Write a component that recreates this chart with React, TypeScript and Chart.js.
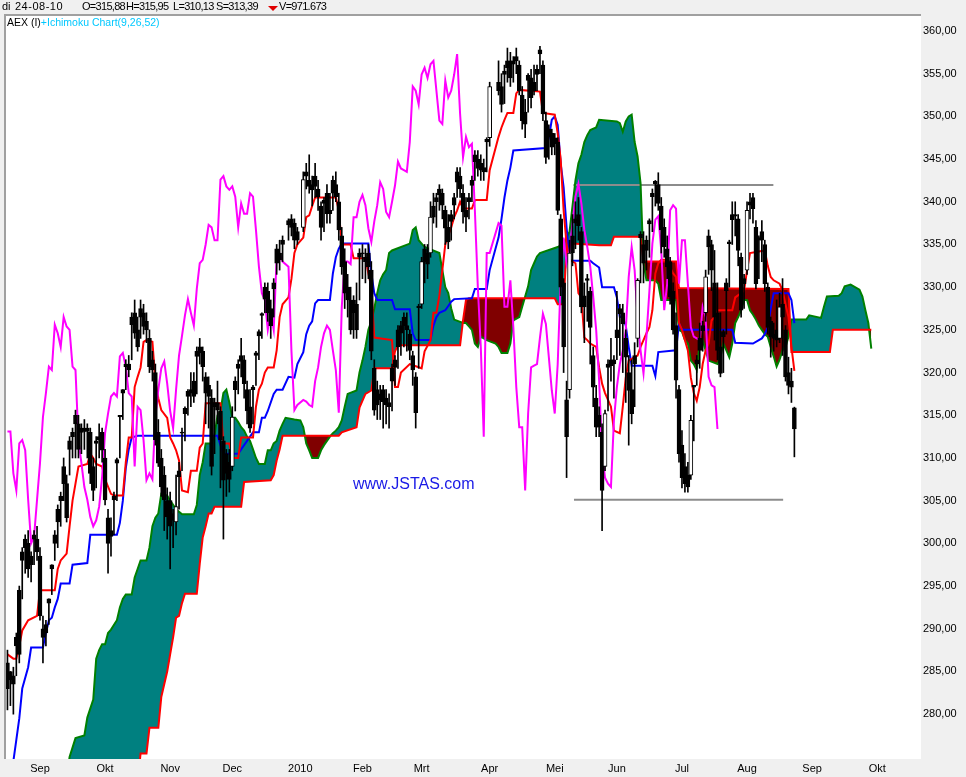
import React, { useEffect, useRef } from "react";
import { Chart, registerables } from "chart.js";

Chart.register(...registerables);

// x = weekday slot, slot 0 = di 1 sep 2009; first candle = ma 17 aug 2009
const FIRST_SLOT = -11;
const CHIKOU_SHIFT = 26;

const monthSlots = [0, 22, 44, 65, 88, 109, 129, 152, 174, 195, 217, 239, 261, 283];
const monthLabels = ["Sep", "Okt", "Nov", "Dec", "2010", "Feb", "Mrt", "Apr", "Mei", "Jun", "Jul", "Aug", "Sep", "Okt"];
const yTickValues = [280, 285, 290, 295, 300, 305, 310, 315, 320, 325, 330, 335, 340, 345, 350, 355, 360];

const lastDay = "di";
const lastDate = "24-08-10";
const lastVolumeLabel = "971.673";

// OHLC per weekday slot (null = beurs gesloten)
const opens: (number | null)[] = [
  286, 285, 284.5, 289, 294.5, 299, 300.5, 300, 298.5, 301,
  300.5, 298.5, 290, 290.5, 293.5, 297.5, 301, 304, 305.5, 309,
  307, 312, 313, 315, 314, 313.5, 313.5, 313.5, 313, 309,
  312, 312.5, 313, 310, 303, 301.5, 305.5, 309.8, 315, 318,
  321, 321, 326.5, 327, 325, 327.5, 327, 326, 324, 321.5,
  320, 313, 310, 308, 305, 305, 303.5, 302.5, 308.5, 313,
  315.8, 317.8, 318, 319, 322.5, 323, 322.5, 319.5, 318.5, 317,
  316.5, 316.5, 315.5, 312, 310.5, 309.5, 309, 319, 321, 322,
  321.5, 318, 316, 318.3, 322.3, 324.8, 326.9, 330, 329.5, 327.5,
  330.5, 334.5, 334, 335.5, null, 337.8, 338, 337.5, 336.5, null,
  337, 343.5, 342.5, 342, 343, 341.5, 339.5, 340.2, 341, 339,
  342.5, 342, 340, 336, 333, 330, 328.5, 328.5, 328, 334,
  334, 333.5, 334, 332, 320.5, 318, 317.5, 318, 317, 316.5,
  320.5, 321.5, 325, 325.5, 326.5, 325.5, 324.5, 322, 319.5, 327.8,
  328, 334.5, 334, 334, 339.5, 340.5, 341.5, 341, 339, 337,
  338.5, 340.5, 343.5, 343, 341, 339, 340.5, 342.5, 345.5, 345,
  344.5, 344, 347.3, 347.5, null, null, 354, 353.5, 355.3, 356.5,
  356.5, 356.5, 357, 356, 352.5, 350.5, 354.8, 354.5, 354, 355.5,
  357.8, 356, 349.5, 348.5, 348, 347.5, 347, 338, 330.5, 316.8,
  318, 336, 338, 338.5, 336.5, 329, 331, 329.5, 322, 317,
  315, 313, 309, 321, 321.5, 321.5, 325, 327.5, 327, 324,
  320, 318, 322, 324, 336.2, 335, 335.5, 337.8, 341, 342.4,
  342, 339.5, 337, 334.5, 333, 329.5, 325.5, 318, 311.5, 309,
  308, 308, 318.5, 321.5, 324, 325.5, 327, 336, 335, 330.5,
  327, 323, 324.8, 330.5, 335.3, 338.5, 338.5, 338, 333.5, 331,
  332, 340, 340.5, 337, 335.8, 336.5, 335, 330, 326, 324.5,
  325, 324, 328, 325, 320, 319, 315.88,
];
const highs: (number | null)[] = [
  287.5, 285, 285.5, 289.5, 295, 299.5, 301, 301.5, 299, 301.5,
  302, 299.5, 291.5, 291, 293.5, 297.5, 301.5, 304.5, 306, 310,
  308, 312.5, 313.5, 315.6, 315, 314, 314.5, 314, 313.5, 310,
  312.5, 314, 313.5, 311, 304, 303, 306, 310, 315, 318,
  321.5, 322, 327, 328.5, 326.5, 328.5, 328, 327, 325, 322.5,
  321, 314.5, 311, 309, 306.5, 306, 304, 308, 309.5, 313.5,
  316, 318, 320, 320, 323, 324, 323, 320, 319.5, 318,
  317, 319, 316, 312.5, 311, 311, 316, 319.5, 321.5, 324,
  322, 319, 318, 318.5, 322.5, 325, 327, 330.5, 330.5, 328.5,
  331, 335, 335.5, 336, null, 338, 338.5, 338, 337, null,
  343.5, 344.5, 345.5, 343, 344.5, 342.5, 340, 340.5, 342, 341,
  343, 343.5, 341, 337, 334.5, 331.5, 330, 329, 330.5, 334.5,
  335, 334.5, 335, 333, 321.5, 319, 318.5, 318.5, 318, 317.5,
  321, 322, 325.5, 326, 327, 327, 325, 322.5, 320, 328,
  333.5, 335, 335, 340, 341, 341, 342, 341.5, 339.5, 338.5,
  339, 341, 344, 344, 342, 340.5, 341, 343, 346, 346,
  345.5, 345, 347.5, 354, null, null, 356.5, 355, 356, 358,
  357.5, 357, 358, 356.5, 353.5, 352, 355, 355.5, 356, 356,
  358.2, 356.5, 350.5, 349, 348.5, 348, 347.5, 338.5, 331, 319,
  335.5, 338.5, 340, 340.5, 337, 330.5, 331.5, 330, 323, 318.5,
  316, 314, 315.6, 321.5, 324, 322, 329.5, 328, 328, 325,
  322, 321.5, 323.5, 331, 336.5, 336.5, 336, 338, 341.5, 342.5,
  343.4, 340.5, 338, 336, 333.5, 330.5, 327, 318.5, 313.2, 310.5,
  309.5, 315, 318.5, 322, 325.8, 326, 332, 336.7, 335.5, 334.3,
  330.5, 327, 325, 331, 335.5, 340, 340, 338.5, 334, 331.5,
  340, 341, 341, 337.8, 336, 337.8, 335.5, 330.5, 326.5, 325.8,
  328.5, 329.3, 331, 325.5, 321.8, 320.5, 315.95,
];
const lows: (number | null)[] = [
  280.5, 281, 280, 284.5, 286, 293.5, 296.5, 296, 295.5, 297.5,
  298, 291, 286, 288, 290.5, 294, 298, 299.5, 302, 305,
  302.5, 308, 310, 310, 310, 310.5, 311, 310, 307, 305,
  306.5, 310, 309.5, 304.5, 296.5, 298.5, 301, 305, 310, 314.5,
  318, 319.5, 321.5, 324, 322.5, 324, 324.5, 323.5, 320, 319,
  311.5, 309, 305.5, 301.5, 300.5, 297, 299.5, 301, 304, 308.5,
  312, 315, 316, 316.5, 317.5, 321, 319, 314, 313.5, 308,
  310.5, 314, 306.5, 300.5, 305.5, 306, 308.5, 315.5, 317.5, 319.5,
  317, 314, 313, 314, 318.5, 321.5, 324, 327, 326, 324,
  326.5, 331.5, 332, 333, null, 335.5, 336, 334.5, 335, null,
  336.5, 341.5, 341, 339.5, 340.5, 339, 335.5, 336.5, 337.5, 337.5,
  339, 340, 335.5, 331.5, 327.5, 326.5, 324.5, 324, 324, 328.5,
  331, 330.5, 331, 321.5, 315, 314.5, 314.5, 313.5, 314, 313.5,
  315.5, 318.5, 320.5, 322, 323, 322.5, 321.5, 318.5, 313.5, 320.5,
  327.5, 330.5, 331, 333.5, 337.5, 337, 339, 338, 335, 334.5,
  335.5, 338, 340.5, 340.5, 337.5, 336.5, 338, 340, 342.5, 343,
  342.5, 342.5, 343.5, 346.5, null, null, 352.5, 350.5, 351.5, 354,
  353.5, 354, 355, 352.5, 348.5, 347.5, 350.5, 351, 352.5, 353,
  355, 349.5, 344.5, 345, 345.5, 345.5, 338.5, 329, 320, 307.7,
  317, 332.5, 334.5, 335.5, 327, 323.5, 326, 321, 316, 312.5,
  312.5, 301.5, 308.5, 315.5, 319, 317, 321.5, 322, 320, 316.5,
  311.5, 314, 316, 323, 330.5, 330.5, 332, 333.5, 336.5, 339.5,
  339, 334, 333.5, 331, 328, 324.5, 317, 309.5, 306.5, 306,
  306, 307.5, 312, 318.5, 320.5, 322.5, 326, 331.5, 329.6, 323.8,
  321.5, 319.5, 320, 324.5, 330, 335, 336, 332.5, 326.5, 327.5,
  331.5, 338, 337.5, 329.8, 331, 333, 329.5, 324.5, 321.8, 322.5,
  323, 323.5, 322, 319, 317.5, 316.5, 310.13,
];
const closes: (number | null)[] = [
  283, 284, 283.5, 288, 287, 298, 299.5, 297, 297.5, 300.5,
  299, 291.5, 289, 289.5, 293, 297, 300, 302.5, 305, 307,
  303, 311, 312.5, 314, 311, 313, 313.1, 313.1, 308.2, 306.2,
  311.7, 312.1, 310.9, 305.1, 300, 300.8, 305.1, 309.4, 314.8, 317.6,
  320.7, 320.3, 325.6, 324.6, 323, 326.5, 325.4, 325, 320.7, 320.3,
  312.1, 309.4, 306.6, 305.1, 303.1, 302, 302.7, 304.3, 307.8, 312.9,
  315.2, 317.2, 317.6, 317.2, 321.9, 322.3, 320.7, 317.6, 317.2, 309,
  316, 315.6, 312.1, 307.4, 308.2, 307.5, 314.8, 318, 320.5, 321.3,
  318.7, 315.5, 313.5, 318, 322, 324.3, 326.7, 328.6, 327, 325.5,
  329.8, 332.8, 333.2, 335, null, 337.3, 337, 335.5, 335.5, null,
  342.6, 343, 341.8, 341.4, 341.8, 340.6, 337, 339.8, 338.6, 338.6,
  341, 340.6, 336.7, 332.4, 329.3, 328.5, 325, 327, 325, 333.5,
  333.9, 333, 332.4, 322.5, 315.6, 316.2, 316.8, 316.6, 316.2, 316,
  319, 320.6, 323, 324.6, 325.5, 325, 322.6, 320.3, 315.3, 327.6,
  333, 333, 332.7, 338.2, 338.2, 340, 340.8, 339.6, 336.9, 335.3,
  337.7, 339.6, 342.3, 341.5, 338.8, 338.2, 340, 341.9, 344.7, 343.9,
  343.7, 343.5, 347, 353.5, null, null, 353, 351.4, 354.9, 355.7,
  354.5, 356.1, 356.5, 353, 349.5, 349.1, 354.2, 352.2, 353, 354.9,
  357.3, 350.3, 345.2, 347.6, 346.4, 346.8, 339, 330, 323, 312.5,
  334, 334, 337.5, 337.2, 327.7, 327.7, 330.8, 325.3, 318.3, 313.6,
  313.6, 306.2, 315.2, 320.6, 320.8, 321, 324.1, 326.9, 325.7, 321.8,
  317.9, 315.2, 321, 330.8, 335.8, 332.8, 334.3, 337.4, 340.6, 342.1,
  339.8, 336.7, 334.7, 332.4, 328.9, 325, 319.1, 310.5, 307.7, 307,
  306.6, 314.4, 318.3, 321, 322.6, 324.9, 331.2, 334.7, 332, 326.5,
  322.6, 319.9, 324.2, 329.6, 335.1, 337.9, 338.3, 334.3, 327.3, 330.4,
  339, 339.6, 339.2, 330.4, 335.5, 335.5, 330.4, 325.3, 324.2, 324,
  323.8, 327.7, 326.5, 319.5, 318.5, 318.3, 313.39,
];

// Ichimoku lines: [slot, value]
const tenkan: [number, number][] = [
  [-11, 287], [-9, 286.5], [-8, 286.5], [-7, 288], [-6, 289.8], [-4, 291], [-1, 291.5], [0, 294.5], [5, 294.5], [6, 297],
  [7, 298], [9, 298.8], [10, 302], [11, 305], [12, 307], [13, 309], [16, 309.3], [17, 310.5], [18, 310], [19, 309.3],
  [21, 309], [22, 307.5], [24, 305.8], [25, 305.6], [28, 305.6], [29, 309.5], [30, 312.4], [31, 312.4], [32, 318.3], [33, 319.5],
  [34, 320.6], [35, 323.6], [36, 323.8], [38, 323.6], [39, 319], [40, 317], [41, 315.6], [43, 314.7], [44, 312.4], [45, 311.7],
  [46, 310.9], [47, 309.7], [48, 306.2], [50, 306], [51, 308.5], [53, 308.5], [54, 311.2], [55, 311.7], [56, 316.4], [61, 316.4],
  [62, 311.7], [64, 311.7], [65, 310], [67, 310], [68, 312.4], [72, 312.4], [73, 316], [74, 318], [75, 318.7], [76, 320],
  [77, 320.6], [79, 320.6], [80, 322.6], [81, 326.5], [82, 328], [84, 328.8], [85, 331], [86, 334], [87, 335], [89, 335.8],
  [90, 338.2], [91, 338.4], [92, 339.5], [93, 340.5], [100, 340.5], [101, 339], [102, 335], [105, 335], [106, 333.4], [110, 333.4],
  [111, 331.6], [112, 330], [113, 324.1], [119, 323.8], [120, 318.3], [121, 318.3], [122, 320], [125, 321], [129, 320.5], [130, 322.5],
  [132, 323.8], [133, 327], [134, 327], [135, 329], [136, 332], [137, 335], [138, 336], [139, 337], [140, 338.2], [141, 339],
  [142, 340], [143, 339.2], [146, 339.2], [147, 340.2], [151, 340.2], [152, 343.7], [155, 347.6], [156, 348.7], [157, 349.6], [158, 350.4],
  [160, 350.4], [161, 352.7], [162, 353.1], [169, 352.9], [170, 350.4], [174, 350.2], [175, 348], [176, 345], [177, 339], [178, 335],
  [179, 333.2], [181, 332.8], [182, 329.3], [183, 328.8], [184, 324.1], [185, 323.8], [186, 323.4], [188, 323], [189, 320.6], [190, 318.7],
  [191, 317.6], [193, 316], [194, 313.2], [196, 312.9], [197, 316], [198, 319.4], [199, 321.4], [201, 321.8], [202, 322], [203, 323],
  [204, 323.8], [205, 324.6], [206, 325.3], [207, 327.3], [208, 331.6], [209, 332.8], [210, 333.2], [212, 333.2], [213, 332.3], [214, 331.6],
  [215, 331.2], [216, 325.8], [217, 325], [218, 323.8], [219, 322.6], [220, 319.4], [221, 317.6], [222, 316.7], [223, 318.3], [224, 321],
  [225, 322.6], [226, 323.4], [227, 326.1], [228, 326.5], [229, 327.3], [234, 327.3], [235, 328.8], [237, 329.3], [238, 329.6], [239, 332],
  [240, 334], [245, 334.3], [246, 332.5], [247, 331.2], [248, 330.8], [250, 330.4], [251, 329.6], [252, 328], [253, 326.5], [254, 323],
  [255, 320.2],
];
const kijun: [number, number][] = [
  [-11, 270], [-9, 274.5], [-8, 277], [-7, 279.5], [-6, 283], [-4, 285.5], [-3, 287.8], [1, 287.8], [2, 289.5], [3, 291],
  [4, 291.3], [5, 292.5], [6, 293.5], [7, 295.3], [10, 295.3], [11, 297.5], [16, 297.7], [17, 301], [26, 301], [27, 302.4],
  [28, 305], [29, 308.8], [30, 311], [31, 312.4], [33, 312.6], [60, 312.6], [61, 311.5], [62, 310.5], [67, 310.5], [68, 311],
  [70, 312], [72, 313], [74, 313], [75, 314.7], [76, 314.7], [77, 315.5], [79, 317.5], [80, 318], [82, 318], [84, 319.5],
  [86, 319.4], [87, 321], [89, 322.4], [90, 324.5], [91, 325.5], [92, 326], [93, 328.1], [94, 328.5], [98, 328.5], [99, 331.6],
  [100, 333.5], [101, 334.5], [102, 335.1], [111, 335.1], [112, 331.6], [113, 329.3], [114, 328.5], [119, 328.5], [120, 327.4], [125, 327.4],
  [126, 324.6], [127, 323.8], [132, 323.8], [133, 325.5], [134, 326.5], [135, 327], [137, 327.3], [138, 327.8], [139, 328.3], [140, 328.6],
  [146, 328.7], [147, 329.8], [151, 329.8], [152, 332], [155, 335.8], [156, 338], [157, 340.5], [158, 342.5], [159, 344], [160, 346],
  [171, 346.3], [172, 347.5], [173, 349.6], [174, 350], [175, 349], [176, 344.5], [177, 341.7], [178, 337], [179, 333.1], [186, 333.1],
  [187, 332.8], [189, 332.3], [190, 330], [194, 330], [195, 328.8], [196, 326.5], [197, 326.5], [198, 325.5], [199, 323], [200, 320.8],
  [207, 320.8], [208, 319.6], [209, 322.4], [215, 322.6], [216, 325.8], [217, 325], [234, 325], [235, 323.5], [241, 323.4], [243, 323.8],
  [244, 324], [245, 324.5], [246, 325.3], [247, 327.5], [248, 329.3], [253, 329.3], [254, 328.5], [255, 325.8],
];
const senkouA: [number, number][] = [
  [9, 272], [10, 275], [12, 277.2], [15, 277.5], [16, 279.6], [18, 281.7], [19, 286.5], [20, 287.5], [21, 288.2], [22, 288.2],
  [23, 289.5], [24, 289.9], [26, 291], [27, 292.5], [28, 293.5], [29, 294], [31, 294], [32, 296], [33, 297], [34, 298],
  [36, 298], [37, 299.5], [38, 302], [39, 303], [40, 303.5], [41, 305.8], [43, 305.6], [44, 305], [45, 304.5], [46, 304],
  [48, 303.4], [52, 303.4], [53, 304.5], [54, 308], [55, 309.5], [56, 311.7], [58, 311.7], [59, 312.6], [60, 315], [61, 315.5],
  [62, 317.6], [63, 318], [64, 316.5], [65, 314.7], [66, 314.7], [67, 314.2], [68, 313.6], [69, 313.2], [70, 312.5], [71, 312],
  [72, 311], [73, 310], [74, 309.3], [76, 309.3], [77, 310.9], [78, 310.9], [79, 311.7], [80, 312], [81, 313.2], [82, 314],
  [83, 314.7], [86, 314.5], [88, 314.4], [89, 313.6], [90, 311.7], [91, 310.9], [92, 310], [94, 310], [95, 310.9], [96, 311.5],
  [97, 312], [98, 312.5], [99, 312.9], [100, 313.2], [101, 313.6], [102, 314.4], [103, 316], [104, 317.5], [107, 317.9], [108, 320],
  [109, 321.4], [110, 323], [111, 325], [112, 326], [113, 327.5], [114, 329.3], [115, 330.8], [116, 331.5], [117, 332], [118, 334],
  [119, 334.3], [125, 335.1], [126, 336.7], [127, 337], [128, 335.5], [130, 334.7], [135, 334], [136, 332], [137, 330], [138, 329.3],
  [139, 327.5], [140, 326.2], [143, 325.8], [144, 325.8], [145, 325.4], [146, 325], [147, 323.4], [148, 323], [149, 324.2], [151, 323.8],
  [154, 323.4], [155, 323], [156, 322.3], [158, 322.3], [159, 323.4], [160, 326.1], [162, 326.5], [163, 327.7], [164, 328.9], [165, 330.1],
  [166, 332], [167, 332.8], [168, 333.6], [169, 334], [175, 334.7], [177, 335.1], [178, 335.8], [179, 336.5], [180, 339.5], [181, 342.5],
  [182, 344.5], [183, 345.5], [184, 347], [185, 347.8], [186, 348.4], [188, 348.7], [189, 349.6], [195, 349.4], [196, 349.2], [197, 348.2],
  [198, 349.4], [199, 350], [200, 350.2], [201, 347], [202, 345.3], [203, 342.2], [204, 332.8], [205, 330.8], [208, 330.8], [209, 330.4],
  [210, 328.5], [215, 328.5], [216, 325], [217, 324.8], [218, 323.8], [219, 323.4], [220, 321.4], [221, 321], [222, 320.3], [223, 323.4],
  [224, 323.8], [225, 322.6], [226, 321.4], [229, 321], [230, 321.8], [231, 323.4], [232, 322.6], [233, 321.8], [234, 323.4], [235, 325.8],
  [236, 326.5], [237, 327.3], [238, 328.5], [239, 328.5], [240, 327.3], [241, 326.8], [242, 326.2], [243, 325.5], [244, 325], [245, 324.5],
  [246, 324.2], [247, 323], [248, 321.9], [249, 320.7], [250, 321.5], [251, 322.6], [252, 323], [253, 324.2], [254, 326.2], [259, 326.2],
  [260, 326.7], [264, 326.4], [265, 327.7], [266, 328.9], [270, 329], [271, 329.3], [272, 330.1], [274, 330.3], [277, 329.7], [278, 328.9],
  [279, 327.3], [280, 325.8], [281, 322.8],
];
const senkouB: [number, number][] = [
  [9, 266], [33, 272], [34, 275.4], [36, 275.4], [37, 278.4], [40, 278.4], [41, 282], [42, 283.5], [43, 285], [44, 287],
  [45, 289], [46, 291.3], [47, 291.5], [48, 293], [49, 294.1], [53, 294.1], [54, 297.6], [55, 300.7], [56, 302], [57, 303.5],
  [58, 303.5], [59, 304.3], [68, 304.3], [69, 307.2], [78, 307.4], [79, 308], [80, 309.7], [81, 311], [82, 312.6], [101, 312.6],
  [102, 313], [107, 313.6], [108, 315.9], [110, 317.5], [112, 317.9], [113, 320.5], [119, 320.5], [120, 322.5], [121, 323.2], [142, 323.2],
  [143, 326.1], [144, 328.5], [145, 328.7], [174, 328.7], [175, 328], [177, 328], [178, 334.7], [180, 335.1], [189, 334.9], [193, 334.9],
  [194, 335.9], [203, 335.9], [204, 333], [215, 333], [216, 329.9], [253, 329.8], [254, 322.4], [267, 322.4], [268, 325], [281, 325],
];

// getekende steun/weerstandslijnen
const resistanceLine: [number, number][] = [[180.3, 341.95], [247.9, 341.95]];
const supportLine: [number, number][] = [[180.5, 305.1], [251.2, 305.1]];

const X_MIN = -11.49;
const X_MAX = 297.8;
const Y_MIN = 274.75;
const Y_MAX = 361.87;

const FONT = '"Liberation Sans", Arial, sans-serif';

const fmt = (v: number) => v.toFixed(2).replace(".", ",");
const toXY = (pairs: [number, number][]) => pairs.map(([x, y]) => ({ x, y }));

const framePlugin = {
  id: "frame",
  beforeDraw(chart: any) {
    const { ctx, chartArea: a } = chart;
    ctx.save();
    ctx.fillStyle = "#f0f0f0";
    ctx.fillRect(0, 0, chart.width, chart.height);
    ctx.fillStyle = "#ffffff";
    ctx.fillRect(a.left - 1, a.top - 1, a.right - a.left + 1, a.bottom - a.top + 1);
    ctx.fillStyle = "#a0a0a0";
    ctx.fillRect(a.left - 2, a.top - 1, 2, a.bottom - a.top + 1);
    ctx.fillRect(a.left - 2, a.top - 1, a.right - a.left + 2, 2);
    ctx.restore();
  },
};

export default function App() {
  const canvasRef = useRef<HTMLCanvasElement | null>(null);

  useEffect(() => {
    document.body.style.margin = "0";
    const canvas = canvasRef.current;
    if (!canvas) return;

    const bodies: any[] = [];
    const wicks: any[] = [];
    const bodyColors: string[] = [];
    const tradingSlots: number[] = [];
    const tradingCloses: number[] = [];
    for (let k = 0; k < closes.length; k++) {
      const o = opens[k], h = highs[k], l = lows[k], c = closes[k];
      if (o == null || h == null || l == null || c == null) continue;
      const slot = FIRST_SLOT + k;
      wicks.push({ x: slot, y: [l, h] });
      bodies.push({ x: slot, y: [Math.min(o, c), Math.max(o, c)] });
      bodyColors.push(c < o ? "#000000" : "#ffffff");
      tradingSlots.push(slot);
      tradingCloses.push(c);
    }
    // chikou span: each close drawn 26 trading bars back
    const chikou = tradingCloses.slice(CHIKOU_SHIFT).map((c, t) => ({ x: tradingSlots[t], y: c }));

    const lineBase = {
      type: "line" as const,
      pointRadius: 0,
      borderWidth: 2,
      tension: 0,
      fill: false,
    };

    const chart = new Chart(canvas, {
      type: "line",
      data: {
        datasets: [
          {
            type: "bar",
            data: bodies,
            backgroundColor: bodyColors,
            borderColor: "#000000",
            borderWidth: 1,
            borderSkipped: false,
            barThickness: 4,
            minBarLength: 1,
            grouped: false,
            order: 0,
          } as any,
          {
            type: "bar",
            data: wicks,
            backgroundColor: "#000000",
            borderWidth: 0,
            barThickness: 1,
            grouped: false,
            order: 1,
          } as any,
          { ...lineBase, data: chikou, borderColor: "#ff00ff", order: 2 },
          { ...lineBase, data: toXY(tenkan), borderColor: "#ff0000", order: 3 },
          { ...lineBase, data: toXY(kijun), borderColor: "#0000ff", order: 4 },
          {
            ...lineBase,
            data: toXY(senkouA),
            borderColor: "#008000",
            fill: { target: 6, above: "#008080", below: "#800000" },
            order: 6,
          } as any,
          { ...lineBase, data: toXY(senkouB), borderColor: "#ff0000", order: 5 },
          { ...lineBase, data: toXY(resistanceLine), borderColor: "#8c8c8c", order: 7 },
          { ...lineBase, data: toXY(supportLine), borderColor: "#8c8c8c", order: 7 },
        ],
      },
      options: {
        animation: false,
        responsive: false,
        devicePixelRatio: 1,
        events: [],
        layout: { padding: { left: 6, top: 15, right: 0, bottom: 0 } },
        plugins: {
          legend: { display: false },
          tooltip: { enabled: false },
          filler: { drawTime: "beforeDatasetsDraw" } as any,
        },
        scales: {
          x: {
            type: "linear",
            offset: false,
            min: X_MIN,
            max: X_MAX,
            grid: { display: false, drawTicks: false, offset: false },
            border: { display: false },
            afterBuildTicks: (scale: any) => {
              scale.ticks = monthSlots.map((v) => ({ value: v }));
            },
            afterFit: (scale: any) => {
              scale.height = 18;
            },
            ticks: {
              autoSkip: false,
              maxRotation: 0,
              minRotation: 0,
              padding: 3,
              color: "#000000",
              font: { family: FONT, size: 11 },
              callback: (_v: any, i: number) => monthLabels[i] ?? "",
            },
          } as any,
          y: {
            type: "linear",
            position: "right",
            offset: false,
            beginAtZero: false,
            min: Y_MIN,
            max: Y_MAX,
            grid: { display: false, drawTicks: false },
            border: { display: false },
            afterBuildTicks: (scale: any) => {
              scale.ticks = yTickValues.map((v) => ({ value: v }));
            },
            afterFit: (scale: any) => {
              scale.width = 45;
            },
            ticks: {
              padding: 2,
              color: "#000000",
              font: { family: FONT, size: 11 },
              callback: (v: any) => fmt(Number(v)),
            },
          } as any,
        },
      },
      plugins: [framePlugin],
    });

    return () => chart.destroy();
  }, []);

  const n = closes.length - 1;
  const headerTokens: [number, string, number][] = [
    [2, lastDay, 0],
    [15, lastDate, 0.5],
    [82, "O=" + fmt(opens[n] as number), -0.7],
    [126, "H=" + fmt(highs[n] as number), -0.7],
    [173, "L=" + fmt(lows[n] as number), -0.7],
    [216, "S=" + fmt(closes[n] as number), -0.7],
    [279, "V=" + lastVolumeLabel, -0.7],
  ];

  return (
    <div
      style={{
        position: "absolute",
        left: 0,
        top: 0,
        width: 966,
        height: 777,
        background: "#f0f0f0",
        overflow: "hidden",
        fontFamily: FONT,
      }}
    >
      <canvas
        ref={canvasRef}
        width={966}
        height={777}
        style={{ position: "absolute", left: 0, top: 0, width: 966, height: 777 }}
      />
      {headerTokens.map(([x, t, ls]) => (
        <span
          key={t}
          style={{
            position: "absolute",
            left: x,
            top: 0,
            fontSize: 11,
            lineHeight: "13px",
            letterSpacing: ls,
            color: "#000",
            whiteSpace: "nowrap",
          }}
        >
          {t}
        </span>
      ))}
      <div
        style={{
          position: "absolute",
          left: 268,
          top: 6,
          width: 0,
          height: 0,
          borderLeft: "5px solid transparent",
          borderRight: "5px solid transparent",
          borderTop: "5px solid #e00000",
        }}
      />
      <div
        style={{ position: "absolute", left: 7, top: 16, fontSize: 10.5, lineHeight: "13px", whiteSpace: "nowrap", color: "#000" }}
      >
        AEX (I)<span style={{ color: "#00c8ff" }}>+Ichimoku Chart(9,26,52)</span>
      </div>
      <div
        style={{ position: "absolute", left: 353, top: 475, fontSize: 16, lineHeight: "18px", color: "#1a1ae6", whiteSpace: "nowrap" }}
      >
        www.JSTAS.com
      </div>
    </div>
  );
}
